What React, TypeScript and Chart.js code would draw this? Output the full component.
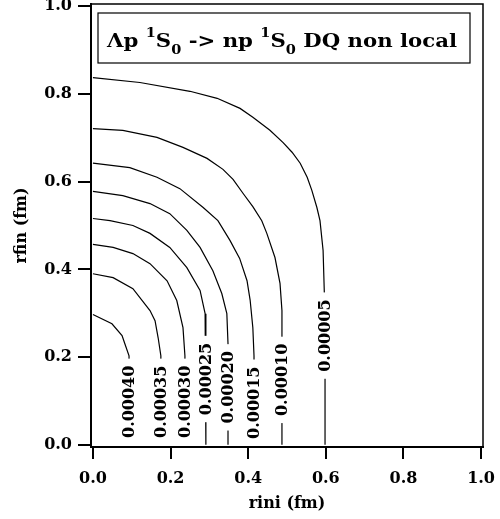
import React, { useEffect, useRef } from "react";
import { Chart, registerables } from "chart.js";
Chart.register(...registerables);

const FONT = "'DejaVu Serif', serif";

// contour lines: rini (x) and rfin (y) points
const rini_00005 = [0, 0.121, 0.25, 0.32, 0.379, 0.412, 0.456, 0.49, 0.513, 0.534, 0.552, 0.564, 0.577, 0.585, 0.593, 0.596, 0.598, 0.598];
const rfin_00005 = [0.837, 0.826, 0.806, 0.79, 0.767, 0.747, 0.717, 0.689, 0.667, 0.642, 0.61, 0.58, 0.541, 0.511, 0.443, 0.352, 0.25, 0];

const rini_00010 = [0, 0.077, 0.165, 0.232, 0.294, 0.335, 0.361, 0.387, 0.412, 0.435, 0.448, 0.469, 0.482, 0.487, 0.487];
const rfin_00010 = [0.721, 0.717, 0.701, 0.678, 0.653, 0.628, 0.605, 0.573, 0.543, 0.511, 0.482, 0.427, 0.368, 0.306, 0];

const rini_00015 = [0, 0.095, 0.165, 0.224, 0.284, 0.322, 0.353, 0.378, 0.397, 0.405, 0.412, 0.415, 0.415];
const rfin_00015 = [0.642, 0.632, 0.61, 0.584, 0.541, 0.511, 0.466, 0.425, 0.374, 0.33, 0.267, 0.203, 0];

const rini_00020 = [0, 0.077, 0.147, 0.198, 0.242, 0.276, 0.309, 0.332, 0.345, 0.348, 0.348];
const rfin_00020 = [0.578, 0.568, 0.55, 0.527, 0.489, 0.45, 0.397, 0.345, 0.299, 0.231, 0];

const rini_00025 = [0, 0.044, 0.103, 0.147, 0.198, 0.242, 0.276, 0.289, 0.291, 0.291];
const rfin_00025 = [0.516, 0.511, 0.5, 0.482, 0.45, 0.404, 0.352, 0.299, 0.253, 0];

const rini_00030 = [0, 0.052, 0.103, 0.147, 0.191, 0.216, 0.232, 0.237, 0.237];
const rfin_00030 = [0.457, 0.45, 0.436, 0.413, 0.374, 0.329, 0.267, 0.203, 0];

const rini_00035 = [0, 0.052, 0.103, 0.147, 0.16, 0.168, 0.175, 0.175];
const rfin_00035 = [0.39, 0.381, 0.356, 0.306, 0.283, 0.244, 0.203, 0];

const rini_00040 = [0, 0.049, 0.075, 0.082, 0.093, 0.093];
const rfin_00040 = [0.297, 0.276, 0.249, 0.231, 0.203, 0];

// contour labels
const labelText = ["0.00040", "0.00035", "0.00030", "0.00025", "0.00020", "0.00015", "0.00010", "0.00005"];
const labelRini = [0.093, 0.175, 0.237, 0.291, 0.348, 0.415, 0.487, 0.598];
const labelRfin = [0.098, 0.098, 0.098, 0.15, 0.131, 0.096, 0.148, 0.249];

const tickValues = [0, 0.2, 0.4, 0.6, 0.8, 1.0];

const contourX = [rini_00040, rini_00035, rini_00030, rini_00025, rini_00020, rini_00015, rini_00010, rini_00005];
const contourY = [rfin_00040, rfin_00035, rfin_00030, rfin_00025, rfin_00020, rfin_00015, rfin_00010, rfin_00005];

const contourLabelPlugin = {
  id: "contourLabels",
  afterDatasetsDraw(chart: any) {
    const { ctx, scales } = chart;
    const xs = scales.x, ys = scales.y;
    ctx.save();
    ctx.font = `bold 16px ${FONT}`;
    labelText.forEach((t, i) => {
      const px = xs.getPixelForValue(labelRini[i]);
      const py = ys.getPixelForValue(labelRfin[i]);
      const w = ctx.measureText(t).width;
      ctx.save();
      ctx.translate(px, py);
      ctx.rotate(-Math.PI / 2);
      ctx.fillStyle = "#fff";
      ctx.fillRect(-w / 2 - 7, -8, w + 14, 16);
      ctx.fillStyle = "#000";
      ctx.textAlign = "center";
      ctx.textBaseline = "middle";
      ctx.fillText(t, 0, 1);
      ctx.restore();
    });
    ctx.restore();
  },
};

const frameTitlePlugin = {
  id: "frameTitle",
  afterDraw(chart: any) {
    const { ctx, chartArea } = chart;
    ctx.save();
    ctx.strokeStyle = "#000";
    ctx.lineWidth = 1.5;
    ctx.strokeRect(chartArea.left, chartArea.top, chartArea.right - chartArea.left, chartArea.bottom - chartArea.top);
    // title box
    const bx = chartArea.left + 7;
    const by = chartArea.top + 9;
    const bw = chartArea.right - 13 - bx;
    const bh = 50;
    ctx.fillStyle = "#fff";
    ctx.fillRect(bx, by, bw, bh);
    ctx.lineWidth = 1.2;
    ctx.strokeRect(bx, by, bw, bh);
    const segs: [string, number, number][] = [
      ["\u039Bp ", 19, 0],
      ["1", 13, -10],
      ["S", 19, 0],
      ["0", 13, 7],
      [" -> np ", 19, 0],
      ["1", 13, -10],
      ["S", 19, 0],
      ["0", 13, 7],
      [" DQ non local", 19, 0],
    ];
    let total = 0;
    for (const [t, s] of segs) {
      ctx.font = `bold ${s}px ${FONT}`;
      total += ctx.measureText(t).width;
    }
    const target = bw - 22;
    const sx = target / total;
    const base = by + 34;
    ctx.translate(bx + 9, base);
    ctx.scale(sx, 1);
    let x = 0;
    ctx.fillStyle = "#000";
    ctx.textBaseline = "alphabetic";
    ctx.textAlign = "left";
    for (const [t, s, dy] of segs) {
      ctx.font = `bold ${s}px ${FONT}`;
      ctx.fillText(t, x, dy);
      x += ctx.measureText(t).width;
    }
    ctx.restore();
  },
};

export default function App() {
  const ref = useRef<HTMLCanvasElement>(null);
  useEffect(() => {
    if (!ref.current) return;
    const datasets = contourX.map((xs, i) => ({
      label: labelText[i],
      data: xs.map((xv, j) => ({ x: xv, y: contourY[i][j] })),
      showLine: true,
      borderColor: "#000",
      borderWidth: 1.2,
      pointRadius: 0,
      tension: 0,
      fill: false,
    }));
    const tickFont = { family: FONT, size: 16, weight: "bold" as const };
    const chart = new Chart(ref.current, {
      type: "scatter",
      data: { datasets },
      options: {
        animation: false,
        responsive: false,
        maintainAspectRatio: false,
        layout: { padding: { top: 4, right: 17, left: 0, bottom: 0 } },
        plugins: { legend: { display: false }, tooltip: { enabled: false } },
        scales: {
          x: {
            type: "linear",
            min: -0.005,
            max: 1.005,
            afterBuildTicks: (s: any) => {
              s.ticks = tickValues.map((v) => ({ value: v }));
            },
            afterFit: (s: any) => {
              s.height = 72;
              s.paddingLeft = 0;
              s.paddingRight = 0;
            },
            ticks: {
              callback: (v: any) => Number(v).toFixed(1),
              font: tickFont,
              color: "#000",
              padding: 10,
              maxRotation: 0,
            },
            grid: { drawOnChartArea: false, tickLength: 12, color: "#000", lineWidth: 2 },
            border: { display: true, color: "#000", width: 2 },
            title: { display: true, text: "rini (fm)", font: tickFont, color: "#000", padding: { top: 0, bottom: 6 } },
          },
          y: {
            type: "linear",
            min: -0.005,
            max: 1.005,
            afterBuildTicks: (s: any) => {
              s.ticks = tickValues.map((v) => ({ value: v }));
            },
            afterFit: (s: any) => {
              s.width = 91;
              s.paddingTop = 0;
              s.paddingBottom = 0;
            },
            ticks: {
              callback: (v: any) => Number(v).toFixed(1),
              font: tickFont,
              color: "#000",
              padding: 6,
            },
            grid: { drawOnChartArea: false, tickLength: 13, color: "#000", lineWidth: 2 },
            border: { display: true, color: "#000", width: 2 },
            title: { display: true, text: "rfin (fm)", font: tickFont, color: "#000", padding: { top: 12, bottom: 0 } },
          },
        },
      },
      plugins: [contourLabelPlugin, frameTitlePlugin],
    });
    return () => chart.destroy();
  }, []);
  return (
    <div style={{ position: "fixed", left: 0, top: 0, width: 500, height: 519, background: "#fff" }}>
      <canvas ref={ref} width={500} height={519} style={{ width: 500, height: 519 }} />
    </div>
  );
}
